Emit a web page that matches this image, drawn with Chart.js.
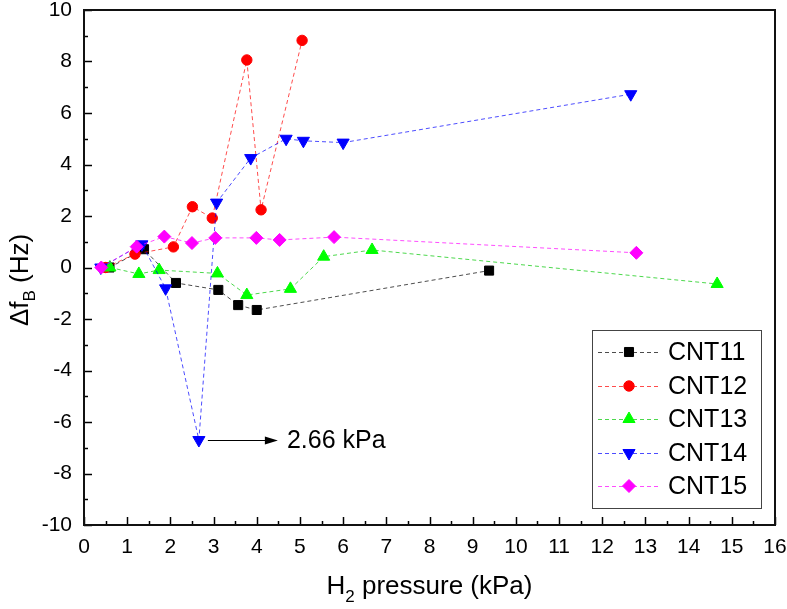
<!DOCTYPE html>
<html>
<head>
<meta charset="utf-8">
<script src="https://cdn.jsdelivr.net/npm/chart.js@4/dist/chart.umd.min.js"></script>
<style>
  body { margin: 0; background: #fff; }
  #wrap { width: 787px; height: 609px; }
</style>
</head>
<body>
<div id="wrap"><canvas id="cnt" width="787" height="609"></canvas></div>
<script>
// data (x: H2 pressure in kPa, y: delta f_B in Hz)
const seriesNames = ['CNT11', 'CNT12', 'CNT13', 'CNT14', 'CNT15'];

const xCNT11 = [0.59, 1.39, 2.13, 3.11, 3.57, 4.00, 9.38];
const yCNT11 = [0.00, 0.71, -0.60, -0.87, -1.46, -1.65, -0.12];

const xCNT12 = [0.50, 1.18, 2.07, 2.51, 2.97, 3.77, 4.10, 5.05];
const yCNT12 = [0.00, 0.52, 0.80, 2.36, 1.92, 8.06, 2.24, 8.82];

const xCNT13 = [0.60, 1.27, 1.74, 3.09, 3.77, 4.78, 5.55, 6.67, 14.66];
const yCNT13 = [0.00, -0.25, -0.10, -0.23, -1.07, -0.83, 0.42, 0.68, -0.64];

const xCNT14 = [0.39, 1.34, 1.89, 2.66, 3.07, 3.86, 4.68, 5.08, 6.00, 12.66];
const yCNT14 = [0.00, 0.90, -0.81, -6.70, 2.52, 4.25, 5.00, 4.92, 4.85, 6.73];

const xCNT15 = [0.40, 1.22, 1.86, 2.50, 3.04, 3.99, 4.53, 5.79, 12.79];
const yCNT15 = [0.00, 0.81, 1.20, 0.95, 1.15, 1.15, 1.07, 1.18, 0.57];

const xRange = [0, 16];
const yRange = [-10, 10];
const xStep = 1;
const yStep = 2;

const annotX = 2.66;
const annotY = -6.7;
const annotText = '2.66 kPa';

const xs = [xCNT11, xCNT12, xCNT13, xCNT14, xCNT15];
const ys = [yCNT11, yCNT12, yCNT13, yCNT14, yCNT15];
const colors = ['#000000', '#ff0000', '#00ff00', '#0000ff', '#ff00ff'];
const lineColors = ['rgba(0,0,0,0.7)', 'rgba(255,0,0,0.7)', 'rgba(0,200,0,0.7)', 'rgba(0,0,255,0.7)', 'rgba(255,0,255,0.7)'];
const shapes = ['rect', 'circle', 'triangle', 'triangle', 'rectRot'];
const rotations = [0, 0, 0, 180, 0];
const radii = [6.4, 5.2, 7, 7, 6.5];

const FONT = "'Liberation Sans', Arial, sans-serif";

const datasets = seriesNames.map((name, i) => ({
  label: name,
  data: xs[i].map((x, j) => ({ x: x, y: ys[i][j] })),
  showLine: true,
  borderColor: lineColors[i],
  borderWidth: 1,
  borderDash: [4, 3],
  pointStyle: shapes[i],
  rotation: rotations[i],
  pointRadius: radii[i],
  pointBackgroundColor: colors[i],
  pointBorderColor: colors[i],
  pointBorderWidth: 1,
  order: seriesNames.length - i
}));

// frame + inward ticks, titles, legend and the arrow note
const decor = {
  id: 'decor',
  afterDraw(chart) {
    const ctx = chart.ctx;
    const a = chart.chartArea;
    const sx = chart.scales.x, sy = chart.scales.y;
    ctx.save();
    ctx.strokeStyle = '#000';
    ctx.lineWidth = 1.5;
    // minor + major ticks, pointing in
    for (let v = xRange[0]; v <= xRange[1] + 1e-9; v += xStep / 2) {
      const px = Math.round(sx.getPixelForValue(v)) + 0.5;
      const major = Math.abs(v - Math.round(v)) < 1e-9;
      ctx.beginPath();
      ctx.moveTo(px, a.bottom);
      ctx.lineTo(px, a.bottom - (major ? 8 : 4));
      ctx.stroke();
    }
    for (let v = yRange[0]; v <= yRange[1] + 1e-9; v += yStep / 2) {
      const py = Math.round(sy.getPixelForValue(v)) + 0.5;
      const major = Math.abs(v % yStep) < 1e-9;
      ctx.beginPath();
      ctx.moveTo(a.left, py);
      ctx.lineTo(a.left + (major ? 8 : 4), py);
      ctx.stroke();
    }
    ctx.lineWidth = 2;
    ctx.strokeStyle = '#111';
    ctx.strokeRect(a.left, a.top, a.right - a.left, a.bottom - a.top);

    // x title with subscript
    ctx.fillStyle = '#000';
    ctx.textBaseline = 'alphabetic';
    const big = '26px ' + FONT, small = '17px ' + FONT;
    ctx.font = big;
    const wH = ctx.measureText('H').width;
    const wRest = ctx.measureText(' pressure (kPa)').width;
    ctx.font = small;
    const w2 = ctx.measureText('2').width;
    let x0 = (a.left + a.right) / 2 - (wH + w2 + wRest) / 2;
    const base = 594;
    ctx.font = big;
    ctx.fillText('H', x0, base);
    ctx.font = small;
    ctx.fillText('2', x0 + wH, base + 8);
    ctx.font = big;
    ctx.fillText(' pressure (kPa)', x0 + wH + w2, base);

    // y title, rotated
    ctx.save();
    ctx.translate(28, 280);
    ctx.rotate(-Math.PI / 2);
    ctx.font = big;
    const wD = ctx.measureText('\u0394f').width;
    const wHz = ctx.measureText(' (Hz)').width;
    ctx.font = small;
    const wB = ctx.measureText('B').width;
    let y0 = -(wD + wB + wHz) / 2;
    ctx.font = big;
    ctx.fillText('\u0394f', y0, 0);
    ctx.font = small;
    ctx.fillText('B', y0 + wD, 7);
    ctx.font = big;
    ctx.fillText(' (Hz)', y0 + wD + wB, 0);
    ctx.restore();

    // arrow note
    const ax = sx.getPixelForValue(annotX), ay = Math.round(sy.getPixelForValue(annotY)) + 0.5;
    ctx.strokeStyle = '#000';
    ctx.lineWidth = 1.2;
    ctx.beginPath();
    ctx.moveTo(ax + 9, ay);
    ctx.lineTo(ax + 70, ay);
    ctx.stroke();
    ctx.beginPath();
    ctx.moveTo(ax + 79, ay);
    ctx.lineTo(ax + 66, ay - 4);
    ctx.lineTo(ax + 66, ay + 4);
    ctx.closePath();
    ctx.fill();
    ctx.font = '25px ' + FONT;
    ctx.textBaseline = 'middle';
    ctx.fillText(annotText, ax + 88, ay + 1);

    // legend box
    ctx.lineWidth = 1;
    ctx.strokeStyle = '#444';
    ctx.strokeRect(592.5, 330.5, 169, 178);
    const rows = [352, 386, 419, 453, 486];
    seriesNames.forEach((name, i) => {
      const ry = rows[i];
      ctx.save();
      ctx.strokeStyle = lineColors[i];
      ctx.lineWidth = 1;
      ctx.setLineDash([4, 3]);
      ctx.beginPath();
      ctx.moveTo(598, ry + 0.5);
      ctx.lineTo(661, ry + 0.5);
      ctx.stroke();
      ctx.restore();
      ctx.fillStyle = colors[i];
      ctx.strokeStyle = colors[i];
      Chart.helpers.drawPoint(ctx, { pointStyle: shapes[i], rotation: rotations[i], radius: radii[i], borderWidth: 1 }, 629, ry);
      ctx.fillStyle = '#000';
      ctx.font = '25px ' + FONT;
      ctx.textBaseline = 'middle';
      ctx.fillText(name, 668, ry + 1);
    });
    ctx.restore();
  }
};

new Chart(document.getElementById('cnt'), {
  type: 'scatter',
  data: { datasets: datasets },
  options: {
    responsive: false,
    animation: false,
    layout: { padding: { top: 10, right: 12, left: 0, bottom: 0 } },
    plugins: { legend: { display: false }, tooltip: { enabled: false } },
    scales: {
      x: {
        type: 'linear',
        min: xRange[0],
        max: xRange[1],
        afterFit: s => { s.height = 84; s.paddingLeft = 0; s.paddingRight = 0; },
        grid: { display: false, drawTicks: false },
        border: { display: false },
        ticks: { stepSize: xStep, color: '#000', padding: 10, maxRotation: 0, font: { family: FONT, size: 21 } }
      },
      y: {
        type: 'linear',
        min: yRange[0],
        max: yRange[1],
        afterFit: s => { s.width = 84; s.paddingTop = 0; s.paddingBottom = 0; },
        grid: { display: false, drawTicks: false },
        border: { display: false },
        ticks: { stepSize: yStep, color: '#000', padding: 12, font: { family: FONT, size: 21 } }
      }
    }
  },
  plugins: [decor]
});
</script>
</body>
</html>
